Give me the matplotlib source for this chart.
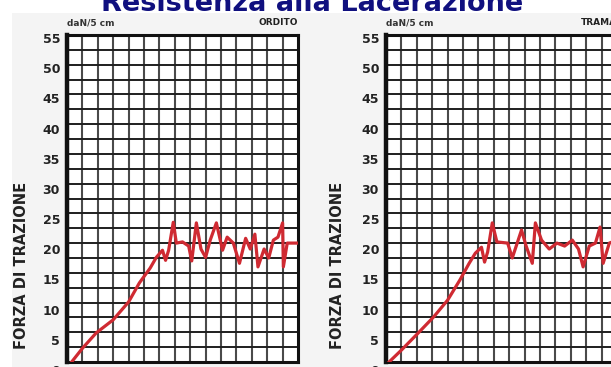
import matplotlib
matplotlib.use("Agg")
import matplotlib.pyplot as plt
from matplotlib.patches import Rectangle
import numpy as np

# Tensile force curves (daN/5 cm) for warp (ORDITO) and weft (TRAMA)
ordito_x = [0.3, 1.0, 1.9, 3.0, 4.0, 4.7, 5.4, 5.8, 6.2, 6.4, 6.6, 6.9, 7.1, 7.5, 7.9, 8.1,
            8.4, 8.7, 9.0, 9.3, 9.7, 10.1, 10.4, 10.8, 11.2, 11.6, 11.9, 12.2, 12.4, 12.8,
            13.1, 13.4, 13.7, 14.0, 14.05, 14.3, 15.0]
ordito_y = [0.0, 2.3, 4.9, 7.1, 10.1, 13.3, 15.8, 17.6, 18.8, 17.1, 18.8, 23.5, 20.0, 20.2,
            19.5, 17.0, 23.4, 19.0, 17.6, 20.5, 23.4, 18.8, 21.0, 20.0, 16.6, 20.8, 19.0,
            21.5, 16.0, 19.0, 17.5, 20.5, 21.0, 23.4, 16.0, 20.0, 20.0]

trama_x = [0.2, 1.0, 2.1, 3.1, 4.0, 4.8, 5.4, 5.8, 6.2, 6.4, 6.6, 6.9, 7.2, 7.9, 8.2, 8.8,
           9.1, 9.5, 9.7, 10.1, 10.6, 11.1, 11.6, 12.1, 12.5, 12.8, 13.2, 13.6, 13.9, 14.1,
           14.5, 15.0]
trama_y = [0.0, 2.0, 4.9, 7.6, 10.4, 13.8, 16.6, 18.3, 19.3, 16.8, 18.5, 23.4, 20.2, 20.0,
           17.5, 22.2, 19.5, 16.6, 23.4, 20.5, 19.0, 20.0, 19.5, 20.5, 19.0, 16.0, 19.5,
           20.0, 22.7, 16.6, 20.0, 20.5]

y_ticks = [0, 5, 10, 15, 20, 25, 30, 35, 40, 45, 50, 55]
panel_names = ["ORDITO", "TRAMA"]
unit_label = "daN/5 cm"
axis_label = "FORZA DI TRAZIONE"
title = "Resistenza alla Lacerazione"

W, H = 611, 367
fig = plt.figure(figsize=(W / 100, H / 100), dpi=100)
fig.patch.set_facecolor("white")

# light paper background behind the charts
fig.patches.append(Rectangle((12 / W, 0), 1, (H - 13) / H, transform=fig.transFigure,
                             facecolor="#f4f4f4", edgecolor="none", zorder=-5))

red = "#cf2a32"
panels = [(67, ordito_x, ordito_y, 45), (386, trama_x, trama_y, 48)]
pw, top, bot = 231, 35, 362
s_top, s_bot = 38, 370   # printed scale is set slightly apart from the grid

for (left_px, xs, ys, lab_off), name in zip(panels, panel_names):
    # printed force scale beside the grid
    scale = fig.add_axes([left_px / W, (H - s_bot) / H, pw / W, (s_bot - s_top) / H])
    scale.set_facecolor("none")
    scale.set_ylim(0, 55)
    scale.set_xticks([])
    scale.set_yticks(y_ticks)
    scale.set_yticklabels([str(t) for t in y_ticks], fontsize=9, fontweight="bold",
                          color="#222222")
    scale.tick_params(axis="y", length=0, pad=5)
    for s in scale.spines.values():
        s.set_visible(False)

    ax = fig.add_axes([left_px / W, (H - bot) / H, pw / W, (bot - top) / H])
    ax.set_zorder(2)
    ax.set_facecolor("white")
    ax.set_xlim(0, 15)
    ax.set_ylim(0, 55)
    for gx in np.arange(1, 15, 1):
        ax.axvline(gx, color="#4a4a4a", lw=1.5, zorder=1)
    for gy in np.arange(2.5, 55, 2.5):
        ax.axhline(gy, color="#1e1e1e", lw=1.4, zorder=1)
    ax.plot(xs, ys, color=red, lw=2.3, zorder=3, solid_joinstyle="round")
    ax.set_xticks([])
    ax.set_yticks([])
    for side, lw in (("left", 3.2), ("right", 2.2), ("top", 2.2), ("bottom", 2.2)):
        ax.spines[side].set_linewidth(lw)
        ax.spines[side].set_color("#111111")

    ax.text(0.0, 1.038, unit_label, transform=ax.transAxes, fontsize=6.5,
            color="#333333", ha="left", va="center", fontweight="semibold")
    ax.text(1.0, 1.038, name, transform=ax.transAxes, fontsize=6.5,
            fontweight="bold", color="#222222", ha="right", va="center")
    fig.text((left_px - lab_off) / W, (H - 265) / H, axis_label, rotation=90,
             fontsize=10.5, fontweight="bold", color="#222222", ha="center", va="center")

fig.text(312 / W, (H - 11) / H, title, fontsize=19.5, fontweight="heavy",
         color="#10107f", ha="center", va="baseline")

fig.savefig("out.png", dpi=100, facecolor=fig.get_facecolor())
